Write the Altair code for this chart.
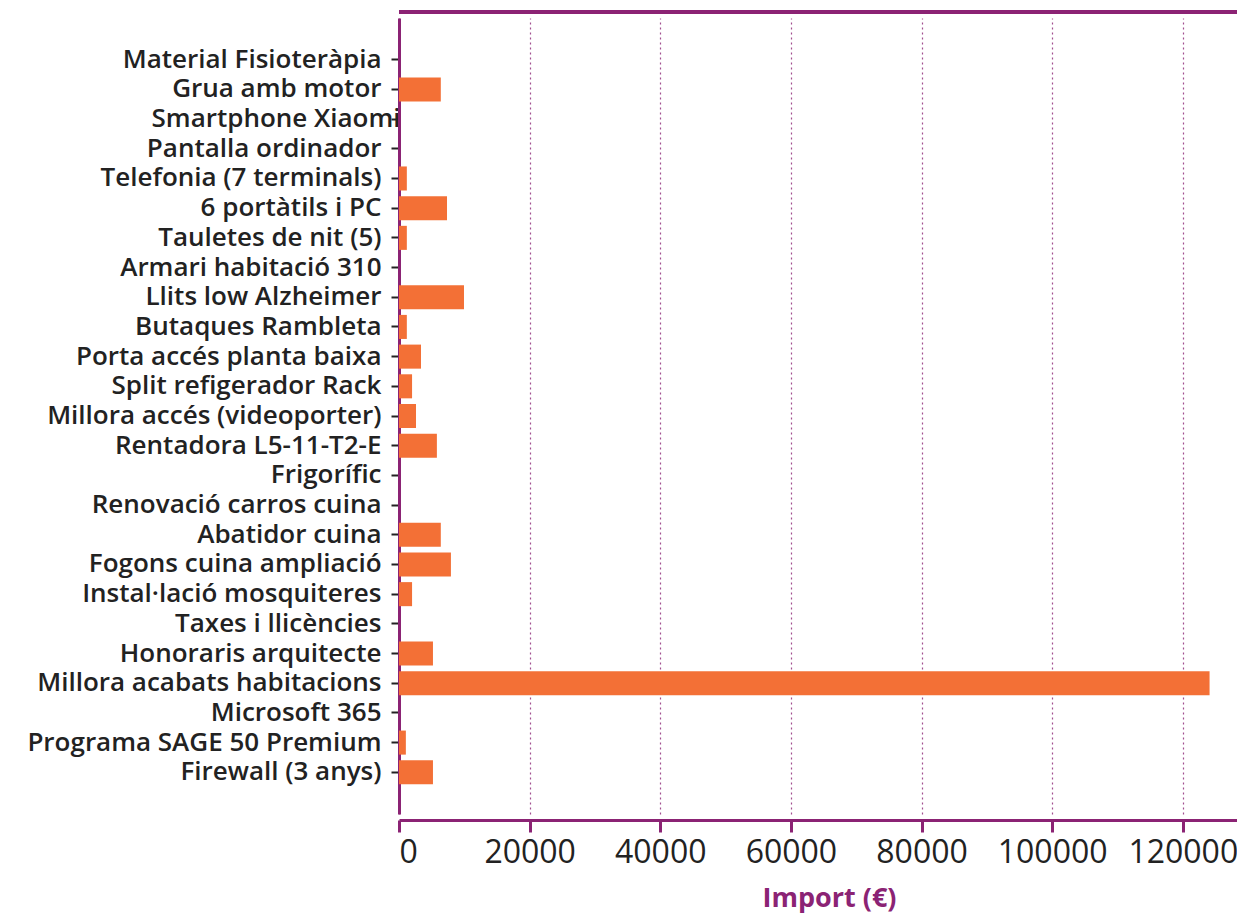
import altair as alt
import pandas as pd

categories = [
    "Material Fisioteràpia", "Grua amb motor", "Smartphone Xiaomi", "Pantalla ordinador",
    "Telefonia (7 terminals)", "6 portàtils i PC", "Tauletes de nit (5)", "Armari habitació 310",
    "Llits low Alzheimer", "Butaques Rambleta", "Porta accés planta baixa", "Split refigerador Rack",
    "Millora accés (videoporter)", "Rentadora L5-11-T2-E", "Frigorífic", "Renovació carros cuina",
    "Abatidor cuina", "Fogons cuina ampliació", "Instal·lació mosquiteres", "Taxes i llicències",
    "Honoraris arquitecte", "Millora acabats habitacions", "Microsoft 365", "Programa SAGE 50 Premium",
    "Firewall (3 anys)",
]
values = [
    0, 6400, 0, 0,
    1200, 7350, 1200, 0,
    9950, 1200, 3370, 2000,
    2600, 5800, 0, 0,
    6400, 7950, 2000, 0,
    5200, 124100, 0, 1050,
    5200,
]
x_ticks = [0, 20000, 40000, 60000, 80000, 100000, 120000]

df = pd.DataFrame({"cat": categories, "val": values})

PURPLE = "#8B2374"
ORANGE = "#F37036"
W = 838

bars = alt.Chart(df).mark_bar(color=ORANGE).encode(
    x=alt.X("val:Q",
            scale=alt.Scale(domain=[0, 128300], nice=False),
            axis=alt.Axis(values=x_ticks, title="Import (€)", format="d",
                          domainColor=PURPLE, domainWidth=3,
                          tickColor=PURPLE, tickWidth=3, tickSize=12,
                          labelFont="Open Sans", labelFontSize=32, labelColor="#222222",
                          labelPadding=5,
                          grid=True, gridColor=PURPLE, gridDash=[2, 3], gridWidth=1.2, gridOpacity=0.8,
                          titleFont="Open Sans", titleFontSize=27, titleFontWeight="bold",
                          titleColor=PURPLE, titlePadding=17, titleX=430)),
    y=alt.Y("cat:N", sort=categories,
            scale=alt.Scale(paddingInner=0.19, paddingOuter=1, range=[6, 802]),
            axis=alt.Axis(title=None, domainColor=PURPLE, domainWidth=3,
                          tickColor="#222222", tickWidth=2, tickSize=8,
                          labelFont="Open Sans", labelFontSize=26, labelFontWeight=600,
                          labelColor="#222222",
                          labelPadding={"condition": {"test": "datum.value == 'Smartphone Xiaomi'", "value": -9},
                                        "value": 10},
                          labelLimit=400, grid=False)),
)

top_border = alt.Chart(df).mark_rule(color=PURPLE, strokeWidth=3).encode(
    x=alt.value(0), x2=alt.value(W), y=alt.value(0)
)

chart = alt.layer(bars, top_border).properties(
    width=W, height=808,
    autosize=alt.AutoSizeParams(type="none"),
    padding={"left": 391, "top": 4, "right": 0, "bottom": 96},
).configure_view(
    stroke=None
)

chart.save("out.html", embed_options={"renderer": "svg", "actions": False})
